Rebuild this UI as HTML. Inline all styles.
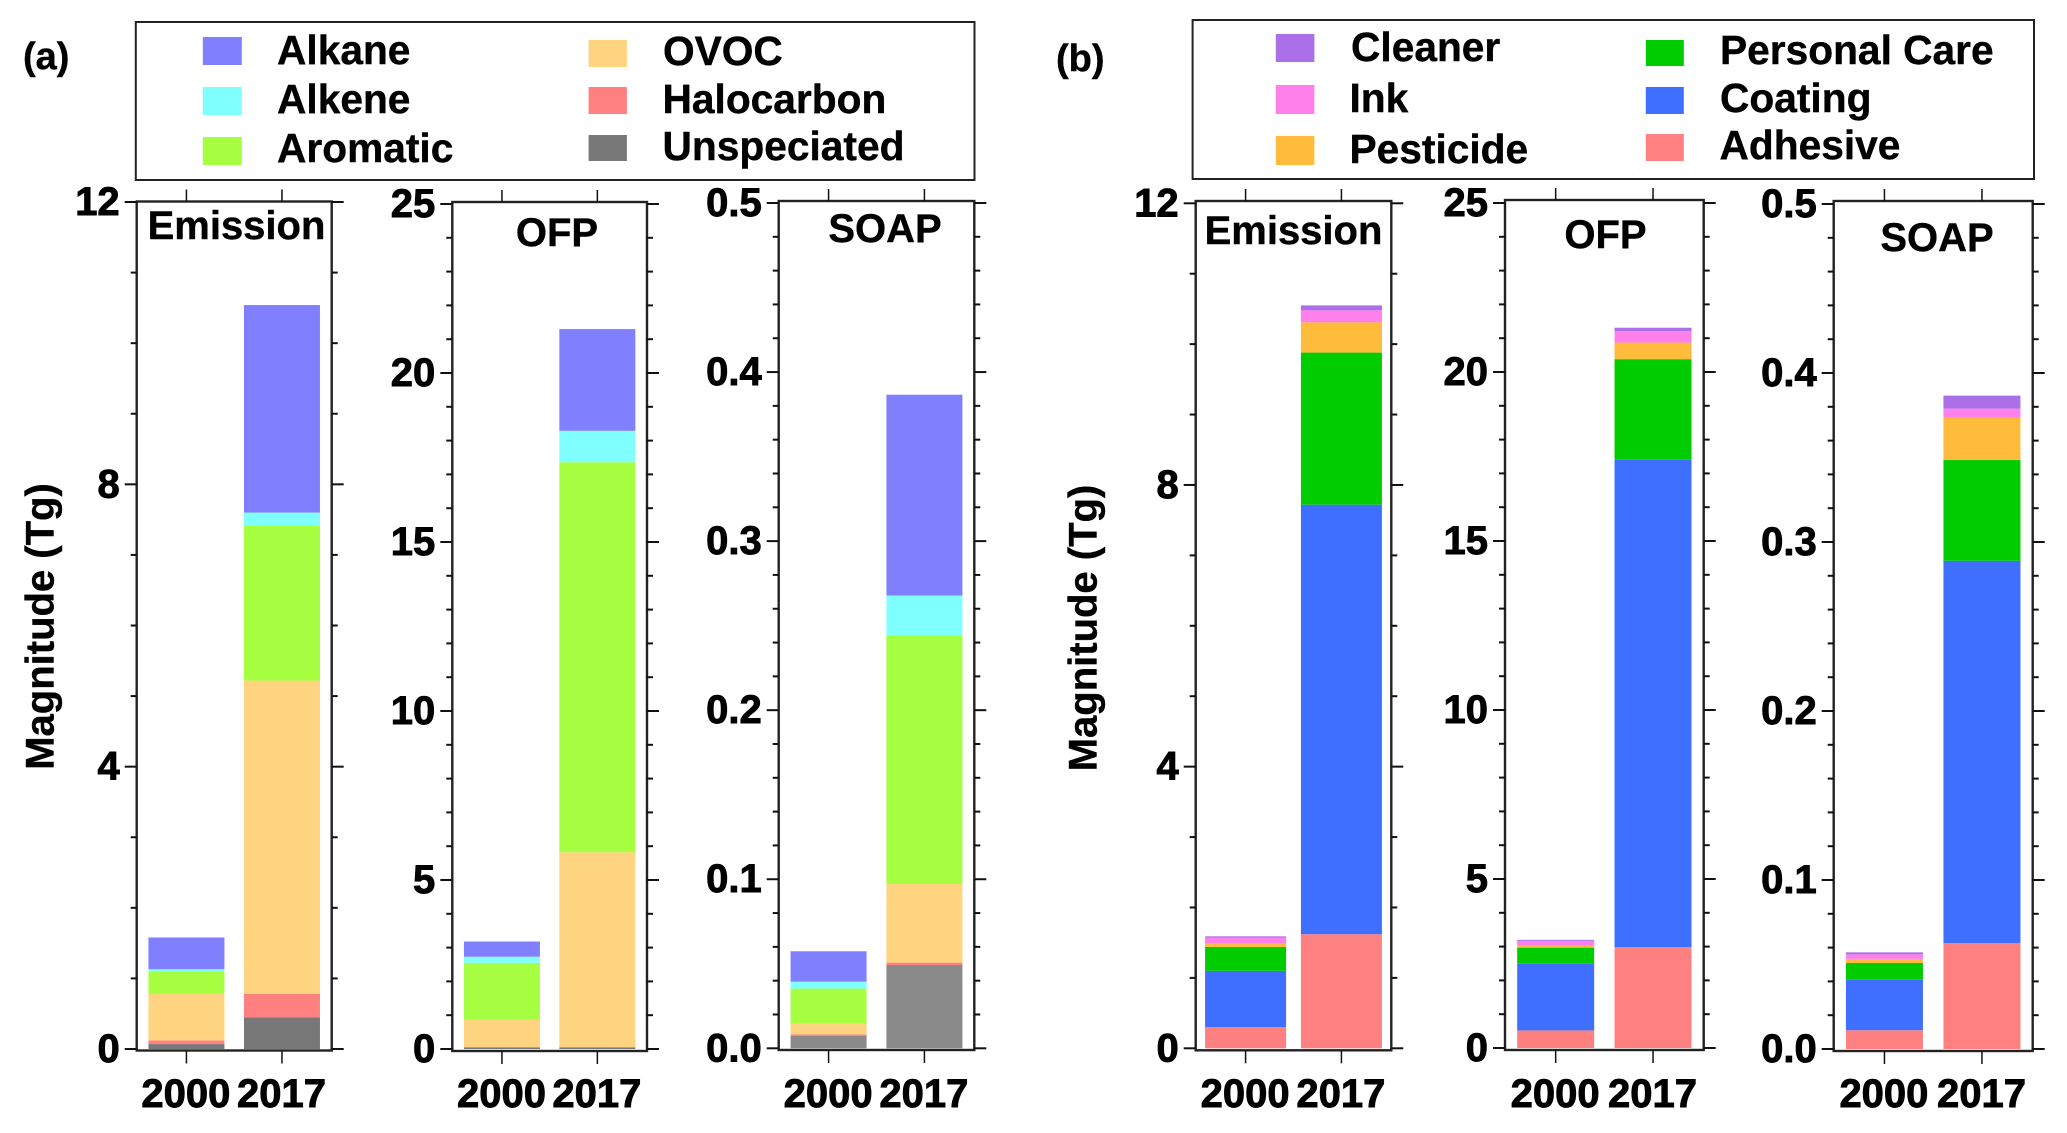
<!DOCTYPE html>
<html lang="en">
<head>
<meta charset="utf-8">
<title>Magnitude of emissions, OFP and SOAP, 2000 and 2017</title>
<style>
  html, body { margin: 0; padding: 0; background: #fff; }
  svg { display: block; font-family: "Liberation Sans", sans-serif; font-weight: 700; }
  svg text { fill: #000; font-size: 40px; stroke: #000; stroke-width: 0.4px; }
  svg text.stroke-text { stroke-width: 0.9px; }
  svg g.legend text { font-size: 40.7px; }
</style>
</head>
<body>
<svg id="chart" xmlns="http://www.w3.org/2000/svg" width="2067" height="1133" viewBox="0 0 2067 1133">
  <rect x="0" y="0" width="2067" height="1133" fill="#fff"/>

  <text x="23" y="69" style="font-size:38px">(a)</text>
  <text x="1056" y="71" style="font-size:38px">(b)</text>

  <g class="legend">
    <rect x="135.8" y="22" width="838.7" height="158" fill="none" stroke="#222" stroke-width="2"/>
    <g><rect x="202.8" y="37" width="39" height="28" fill="#8080ff"/><text x="277" y="64">Alkane</text></g>
    <g><rect x="202.8" y="87" width="39" height="28" fill="#80ffff"/><text x="277" y="113">Alkene</text></g>
    <g><rect x="202.8" y="137" width="39" height="28" fill="#a6ff40"/><text x="277" y="162">Aromatic</text></g>
    <g><rect x="588.6" y="40" width="38.3" height="27" fill="#ffd480"/><text x="663" y="65">OVOC</text></g>
    <g><rect x="588.6" y="87" width="38.3" height="27" fill="#ff8080"/><text x="662.5" y="113">Halocarbon</text></g>
    <g><rect x="588.6" y="135" width="38.3" height="26" fill="#787878"/><text x="662.5" y="160">Unspeciated</text></g>
  </g>

  <g class="legend">
    <rect x="1192.6" y="20" width="841.4" height="159" fill="none" stroke="#222" stroke-width="2"/>
    <g><rect x="1275.8" y="34" width="38.6" height="28" fill="#ab70e8"/><text x="1351" y="61">Cleaner</text></g>
    <g><rect x="1275.8" y="85" width="38.6" height="29" fill="#ff80ea"/><text x="1349.5" y="112">Ink</text></g>
    <g><rect x="1275.8" y="136" width="38.6" height="29" fill="#ffbb3c"/><text x="1349.5" y="163">Pesticide</text></g>
    <g><rect x="1645.8" y="40" width="38" height="26" fill="#00cc00"/><text x="1720" y="64">Personal Care</text></g>
    <g><rect x="1645.8" y="87" width="38" height="27" fill="#3f6fff"/><text x="1720" y="112">Coating</text></g>
    <g><rect x="1645.8" y="134" width="38" height="27" fill="#ff8080"/><text x="1719.5" y="159">Adhesive</text></g>
  </g>

  <text transform="translate(53.5 626.5) rotate(-90)" text-anchor="middle">Magnitude (Tg)</text>
  <text transform="translate(1096.5 628) rotate(-90)" text-anchor="middle">Magnitude (Tg)</text>

  <g id="panels"></g>
</svg>

<script>
// ---- categories and tick labels ----
const categories = ['2000', '2017'];
const emissionTicks = [0, 4, 8, 12];
const ofpTicks = [0, 5, 10, 15, 20, 25];
const soapTicks = [0.0, 0.1, 0.2, 0.3, 0.4, 0.5];
const emissionMinorStep = [1];
const ofpMinorStep = [1];
const soapMinorStep = [0.02];

// ---- series names, stacked from the bottom up ----
const speciesNames = ['Unspeciated', 'Halocarbon', 'OVOC', 'Aromatic', 'Alkene', 'Alkane'];
const sourceNames = ['Adhesive', 'Coating', 'Personal Care', 'Pesticide', 'Ink', 'Cleaner'];

// ---- (a) by species ----
const speciesEmission2000 = [0.07, 0.05, 0.66, 0.32, 0.03, 0.45];
const speciesEmission2017 = [0.45, 0.33, 4.44, 2.19, 0.19, 2.94];
const speciesOfp2000 = [0.04, 0.02, 0.80, 1.69, 0.18, 0.45];
const speciesOfp2017 = [0.04, 0.02, 5.76, 11.54, 0.93, 3.01];
const speciesSoap2000 = [0.0073, 0.0010, 0.0063, 0.0207, 0.0041, 0.0180];
const speciesSoap2017 = [0.0493, 0.0014, 0.0465, 0.1470, 0.0236, 0.1188];

// ---- (b) by source ----
const sourceEmission2000 = [0.30, 0.80, 0.34, 0.05, 0.08, 0.02];
const sourceEmission2017 = [1.62, 6.10, 2.16, 0.43, 0.17, 0.07];
const sourceOfp2000 = [0.52, 1.97, 0.48, 0.06, 0.14, 0.03];
const sourceOfp2017 = [2.98, 14.42, 2.98, 0.49, 0.34, 0.10];
const sourceSoap2000 = [0.0111, 0.0299, 0.0099, 0.0024, 0.0027, 0.0012];
const sourceSoap2017 = [0.0627, 0.2262, 0.0596, 0.0251, 0.0053, 0.0077];

// ---- styling ----
const seriesColors = {
  'Unspeciated': '#787878', 'Halocarbon': '#ff8080', 'OVOC': '#ffd480',
  'Aromatic': '#a6ff40', 'Alkene': '#80ffff', 'Alkane': '#8080ff',
  'Adhesive': '#ff8080', 'Coating': '#3f6fff', 'Personal Care': '#00cc00',
  'Pesticide': '#ffbb3c', 'Ink': '#ff80ea', 'Cleaner': '#ab70e8'
};

// ---- panel layout ----
const panels = [
  { id: 'a-emission', title: 'Emission', titleX: 236.5, titleY: 239, left: 136.7, right: 331.7, frameTop: 201.5, frameBottom: 1050.5, zeroY: 1049, maxY: 202, barWidth: 76, ticks: emissionTicks, minorStep: emissionMinorStep[0], decimals: 0, names: speciesNames, stacks: [speciesEmission2000, speciesEmission2017] },
  { id: 'a-ofp', title: 'OFP', titleX: 557, titleY: 246, left: 452.3, right: 647, frameTop: 202, frameBottom: 1051, zeroY: 1049, maxY: 204, barWidth: 76, ticks: ofpTicks, minorStep: ofpMinorStep[0], decimals: 0, names: speciesNames, stacks: [speciesOfp2000, speciesOfp2017] },
  { id: 'a-soap', title: 'SOAP', titleX: 885, titleY: 242, left: 778.7, right: 974.3, frameTop: 201, frameBottom: 1050, zeroY: 1048.3, maxY: 203, barWidth: 76, ticks: soapTicks, minorStep: soapMinorStep[0], decimals: 1, names: speciesNames, stacks: [speciesSoap2000, speciesSoap2017], override: { 'Unspeciated': '#8a8a8a' } },
  { id: 'b-emission', title: 'Emission', titleX: 1293.5, titleY: 244, left: 1195.7, right: 1391.3, frameTop: 201, frameBottom: 1050.3, zeroY: 1048.3, maxY: 203.3, barWidth: 81, ticks: emissionTicks, minorStep: emissionMinorStep[0], decimals: 0, names: sourceNames, stacks: [sourceEmission2000, sourceEmission2017] },
  { id: 'b-ofp', title: 'OFP', titleX: 1605.5, titleY: 248, left: 1505, right: 1703.7, frameTop: 200, frameBottom: 1050, zeroY: 1048, maxY: 203, barWidth: 77, ticks: ofpTicks, minorStep: ofpMinorStep[0], decimals: 0, names: sourceNames, stacks: [sourceOfp2000, sourceOfp2017] },
  { id: 'b-soap', title: 'SOAP', titleX: 1937, titleY: 251, left: 1833.7, right: 2032.7, frameTop: 201, frameBottom: 1051, zeroY: 1049, maxY: 204, barWidth: 77, ticks: soapTicks, minorStep: soapMinorStep[0], decimals: 1, names: sourceNames, stacks: [sourceSoap2000, sourceSoap2017] }
];

const SVG_NS = 'http://www.w3.org/2000/svg';
const root = document.getElementById('panels');

function make(tag, attrs, parent) {
  const node = document.createElementNS(SVG_NS, tag);
  Object.keys(attrs).forEach(function (k) { node.setAttribute(k, attrs[k]); });
  parent.appendChild(node);
  return node;
}

function slug(s) { return s.toLowerCase().replace(/\s+/g, '-'); }

function drawLine(parent, x1, y1, x2, y2, width, name) {
  const line = make('line', { x1: x1, y1: y1, x2: x2, y2: y2, stroke: '#111', 'stroke-width': width }, parent);
  
  
  return line;
}

panels.forEach(function (p) {
  const domainMax = p.ticks[p.ticks.length - 1];
  const yScale = function (v) { return p.zeroY - (v / domainMax) * (p.zeroY - p.maxY); };
  const xScale = function (i) { return p.left + (p.right - p.left) * (0.255 + 0.49 * i); };

  const g = make('g', {}, root);
  
  

  // stacked bars
  p.stacks.forEach(function (stack, catIndex) {
    const barGroup = make('g', {}, g);
    
    
    let running = 0;
    stack.forEach(function (value, sIndex) {
      const seriesName = p.names[sIndex];
      const y0 = yScale(running);
      running += value;
      const y1 = yScale(running);
      const fill = (p.override && p.override[seriesName]) || seriesColors[seriesName];
      const seg = make('rect', {
        x: xScale(catIndex) - p.barWidth / 2,
        y: y1,
        width: p.barWidth,
        height: Math.max(y0 - y1, 0),
        fill: fill
      }, barGroup);
      
      
    });
  });

  // frame
  const frame = make('rect', {
    x: p.left, y: p.frameTop, width: p.right - p.left, height: p.frameBottom - p.frameTop,
    fill: 'none', stroke: '#222', 'stroke-width': 2.4
  }, g);
  
  

  // y ticks: major, labelled
  const yAxis = make('g', {}, g);
  
  
  p.ticks.forEach(function (t) {
    const y = yScale(t);
    drawLine(yAxis, p.left - 12, y, p.left, y, 2, 'y-tick-left');
    drawLine(yAxis, p.right, y, p.right + 12, y, 2, 'y-tick-right');
    const label = make('text', { x: p.left - 17, y: y + 13, 'text-anchor': 'end', class: 'stroke-text' }, yAxis);
    label.textContent = t.toFixed(p.decimals);
    
    
  });

  // y ticks: minor
  const minorCount = Math.round(domainMax / p.minorStep);
  const majorEvery = Math.round(p.ticks[1] / p.minorStep);
  for (let m = 0; m <= minorCount; m++) {
    if (m % majorEvery === 0) continue;
    const y = yScale(m * p.minorStep);
    drawLine(yAxis, p.left - 6, y, p.left, y, 2, 'y-minor-tick-left');
    drawLine(yAxis, p.right, y, p.right + 6, y, 2, 'y-minor-tick-right');
  }

  // x ticks and labels
  const xAxis = make('g', {}, g);
  
  
  categories.forEach(function (cat, i) {
    const x = xScale(i);
    drawLine(xAxis, x, p.frameTop - 12, x, p.frameTop, 1.5, 'x-tick-top');
    drawLine(xAxis, x, p.frameBottom, x, p.frameBottom + 13, 1.5, 'x-tick-bottom');
    const label = make('text', { x: x - 0.5, y: 1107, 'text-anchor': 'middle', class: 'stroke-text' }, xAxis);
    label.textContent = cat;
    
    
  });

  // title
  const title = make('text', { x: p.titleX, y: p.titleY, 'text-anchor': 'middle' }, g);
  title.textContent = p.title;
  
  
});
</script>
</body>
</html>
